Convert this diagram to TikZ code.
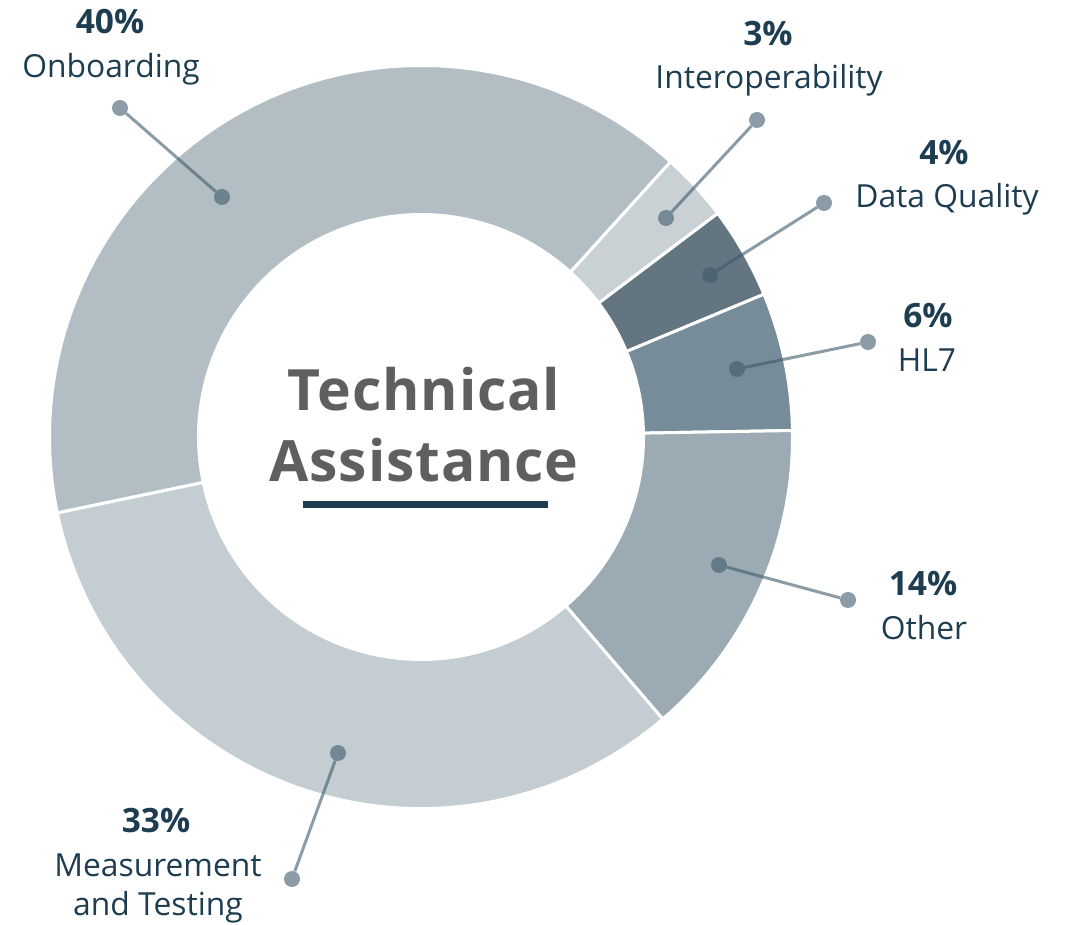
\documentclass[tikz,border=0pt]{standalone}
\usepackage{fontspec}
\setmainfont{Open Sans}
\usetikzlibrary{calc}
\definecolor{navy}{HTML}{1E3D51}
\definecolor{titlegray}{HTML}{5F5F5F}
\definecolor{leadcol}{HTML}{3F5A6C}
\definecolor{onbcol}{HTML}{B3BEC4}
\definecolor{intcol}{HTML}{C9D1D5}
\definecolor{dqcol}{HTML}{627580}
\definecolor{hlcol}{HTML}{768C98}
\definecolor{othcol}{HTML}{9CABB3}
\definecolor{meacol}{HTML}{C3CDD2}
\tikzset{
  pct/.style={anchor=base, inner sep=0pt, text=navy, font=\bfseries\fontsize{33.5}{38}\selectfont},
  lbl/.style={anchor=base, inner sep=0pt, text=navy, font=\fontsize{31.8}{38}\selectfont},
  title/.style={anchor=base, inner sep=0pt, text=titlegray, font=\bfseries\fontsize{57}{64}\selectfont\addfontfeatures{LetterSpace=1.5}},
  dot/.style={circle, inner sep=0pt, minimum size=16pt, fill=leadcol, fill opacity=0.6},
  lead/.style={draw=leadcol, draw opacity=0.6, line width=3pt}
}
\begin{document}
\begin{tikzpicture}[x=1pt,y=1pt]
\useasboundingbox (0,0) rectangle (1068,924);
\coordinate (c) at (421,487);
\foreach \a/\b/\col in {47.8/191.8/onbcol, 37/47.8/intcol, 22.6/37/dqcol, 1/22.6/hlcol, -49.4/1/othcol, -168.2/-49.4/meacol}
  \filldraw[fill=\col, draw=white, line width=3pt, line join=miter]
    ($(c)+(\a:371.5pt)$) arc[start angle=\a, end angle=\b, radius=371.5pt]
    -- ($(c)+(\b:222.5pt)$) arc[start angle=\b, end angle=\a, radius=222.5pt] -- cycle;

\node[title] (t1) at (424,513) {Technical};
\node[title] (t2) at (424,442) {Assistance};
\draw[navy, line width=7pt] (303,419) -- (548,419);

\node[dot] (d1) at (222,727) {};
\node[dot] (e1) at (120,816) {};
\draw[lead] (d1) -- (e1);
\node[dot] (d2) at (666,706) {};
\node[dot] (e2) at (757,804) {};
\draw[lead] (d2) -- (e2);
\node[dot] (d3) at (710,649) {};
\node[dot] (e3) at (824,721) {};
\draw[lead] (d3) -- (e3);
\node[dot] (d4) at (737,555) {};
\node[dot] (e4) at (868,582) {};
\draw[lead] (d4) -- (e4);
\node[dot] (d5) at (719,359) {};
\node[dot] (e5) at (848,324) {};
\draw[lead] (d5) -- (e5);
\node[dot] (d6) at (338,171) {};
\node[dot] (e6) at (292,45) {};
\draw[lead] (d6) -- (e6);

\node[pct] (p1) at (110,890) {40\%};
\node[lbl] (l1) at (111,846) {Onboarding};
\node[pct] (p2) at (768,878) {3\%};
\node[lbl] (l2) at (769,835) {Interoperability};
\node[pct] (p3) at (944,759) {4\%};
\node[lbl] (l3) at (947,716) {Data Quality};
\node[pct] (p4) at (928,596) {6\%};
\node[lbl] (l4) at (927,552) {HL7};
\node[pct] (p5) at (923,328) {14\%};
\node[lbl] (l5) at (924,284) {Other};
\node[pct] (p6) at (156,92) {33\%};
\node[lbl] (l6) at (158,48) {Measurement};
\node[lbl] (l7) at (158,9) {and Testing};
\end{tikzpicture}
\end{document}
